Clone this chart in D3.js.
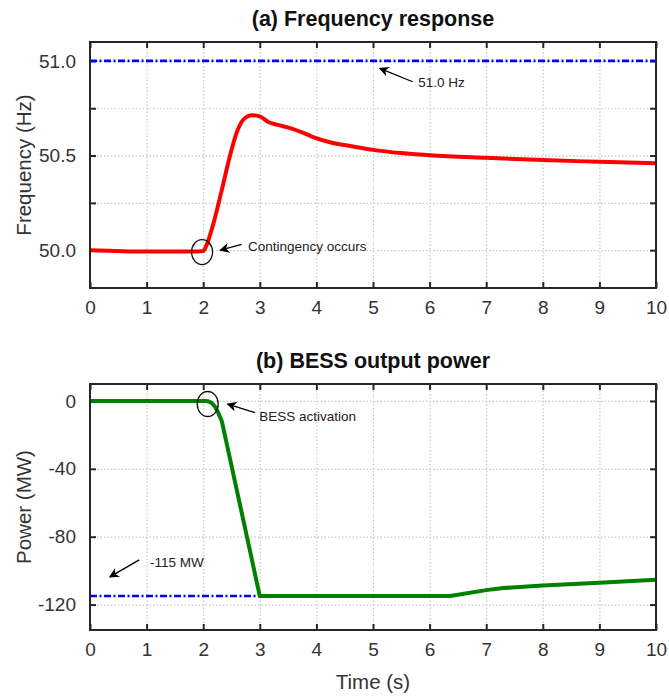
<!DOCTYPE html>
<html><head><meta charset="utf-8">
<script src="https://cdn.jsdelivr.net/npm/d3@7"></script>
<style>
body{margin:0;background:#fff}
svg{display:block}
text{font-family:"Liberation Sans",Arial,Helvetica,sans-serif}
</style>
</head><body>
<svg id="chart" width="669" height="696"></svg>
<script>
// ---------- data ----------
const timeTicks = [0,1,2,3,4,5,6,7,8,9,10];
const freqTicks = [50.0,50.25,50.5,50.75,51.0];
const freqTickLabels = ["50.0","","50.5","","51.0"];
const powerTicks = [0,-40,-80,-120];
const powerTickLabels = ["0","-40","-80","-120"];

const freqTime  = [0, 1.0, 1.9, 2.0, 2.05, 2.18, 2.33, 2.47, 2.59, 2.71, 2.86, 3.0, 3.15, 3.3, 3.59, 3.77, 3.98, 4.24, 4.65, 5.0, 5.5, 6.0, 7.0, 8.0, 9.0, 10.0];
const freqValue = [50.0, 49.993, 49.993, 49.995, 50.02, 50.14, 50.32, 50.495, 50.62, 50.69, 50.713, 50.707, 50.677, 50.663, 50.64, 50.62, 50.593, 50.57, 50.548, 50.53, 50.513, 50.502, 50.488, 50.476, 50.467, 50.459];

const powerTime  = [0, 2.05, 2.1, 2.15, 2.2, 2.26, 2.33, 3.0, 6.36, 7.0, 7.3, 8.0, 9.0, 10.0];
const powerValue = [0, 0, -0.3, -1.2, -3, -6.5, -12, -115, -115, -111.5, -110.3, -108.7, -107.2, -105.4];

const freqLimit = 51.0;          // Hz
const powerLimit = -115;         // MW
const powerLimitEnd = 3.0;       // s

// ---------- layout ----------
const svg = d3.select("#chart");
const X0 = 90, X1 = 656;
const panels = [
  {top:42, bottom:288, domain:[49.8,51.1], ticks:freqTicks, labels:freqTickLabels,
   title:"(a) Frequency response", ylabel:"Frequency (Hz)"},
  {top:384, bottom:630, domain:[-135,10], ticks:powerTicks, labels:powerTickLabels,
   title:"(b) BESS output power", ylabel:"Power (MW)"}
];
const x = d3.scaleLinear().domain([0,10]).range([X0,X1]);
const axisColor = "#262626";
const tickColor = "#333";

const defs = svg.append("defs");
defs.append("marker").attr("id","arr").attr("viewBox","0 0 10 10")
  .attr("refX",9).attr("refY",5).attr("markerWidth",10).attr("markerHeight",10)
  .attr("markerUnits","userSpaceOnUse").attr("orient","auto")
  .append("path").attr("d","M0,0 L10,5 L0,10 L3,5 Z").attr("fill","#000");

panels.forEach((p,i)=>{
  const y = d3.scaleLinear().domain(p.domain).range([p.bottom,p.top]);
  p.y = y;
  const h = p.bottom - p.top;
  const g = svg.append("g");

  // grid
  const gx = g.append("g").attr("transform",`translate(0,${p.bottom})`)
    .call(d3.axisBottom(x).tickValues(timeTicks).tickSize(-h).tickFormat(""));
  const gy = g.append("g").attr("transform",`translate(${X0},0)`)
    .call(d3.axisLeft(y).tickValues(p.ticks).tickSize(-(X1-X0)).tickFormat(""));
  [gx,gy].forEach(a=>{
    a.select(".domain").remove();
    a.selectAll("line").attr("stroke","#c8c8c8").attr("stroke-width",1.2).attr("stroke-dasharray","1.5,2");
  });

  // ticks inside, all four sides
  const tb = g.append("g").attr("transform",`translate(0,${p.bottom})`)
    .call(d3.axisBottom(x).tickValues(timeTicks).tickSizeInner(-6).tickSizeOuter(0).tickPadding(17).tickFormat(d3.format("d")));
  const tt = g.append("g").attr("transform",`translate(0,${p.top})`)
    .call(d3.axisTop(x).tickValues(timeTicks).tickSizeInner(-6).tickSizeOuter(0).tickFormat(""));
  const tl = g.append("g").attr("transform",`translate(${X0},0)`)
    .call(d3.axisLeft(y).tickValues(p.ticks).tickSizeInner(-6).tickSizeOuter(0).tickPadding(14)
      .tickFormat((d,k)=>p.labels[k]));
  const tr = g.append("g").attr("transform",`translate(${X1},0)`)
    .call(d3.axisRight(y).tickValues(p.ticks).tickSizeInner(-6).tickSizeOuter(0).tickFormat(""));
  [tb,tt,tl,tr].forEach(a=>{
    a.select(".domain").remove();
    a.selectAll("line").attr("stroke",axisColor).attr("stroke-width",2);
    a.selectAll("text").attr("fill",tickColor).style("font-size","19px");
  });
  tb.selectAll("text").attr("dy","0.35em").attr("y",19);

  // title
  g.append("text").attr("x",(X0+X1)/2).attr("y",p.top-16)
    .attr("text-anchor","middle").style("font-size","21.5px").style("font-weight","bold")
    .attr("fill","#111").text(p.title);
  // y label
  g.append("text").attr("transform",`translate(31,${(p.top+p.bottom)/2}) rotate(-90)`)
    .attr("text-anchor","middle").style("font-size","20.5px").attr("fill",tickColor).text(p.ylabel);
});

const pa = panels[0], pb = panels[1];

// ---- panel a lines ----
svg.append("line").attr("x1",x(0)).attr("x2",x(10)).attr("y1",pa.y(freqLimit)).attr("y2",pa.y(freqLimit))
  .attr("stroke","#0000ff").attr("stroke-width",2.6).attr("stroke-dasharray","7,2.5,2,2.5");
const freqLine = d3.line().x((d,i)=>x(freqTime[i])).y((d,i)=>pa.y(freqValue[i])).curve(d3.curveMonotoneX);
svg.append("path").attr("d",freqLine(freqTime)).attr("fill","none").attr("stroke","#ff0000")
  .attr("stroke-width",4).attr("stroke-linejoin","round");

// ---- panel b lines ----
svg.append("line").attr("x1",x(0)).attr("x2",x(powerLimitEnd)).attr("y1",pb.y(powerLimit)).attr("y2",pb.y(powerLimit))
  .attr("stroke","#0000ff").attr("stroke-width",2.6).attr("stroke-dasharray","7,2.5,2,2.5");
const powerLine = d3.line().x((d,i)=>x(powerTime[i])).y((d,i)=>pb.y(powerValue[i])).curve(d3.curveLinear);
svg.append("path").attr("d",powerLine(powerTime)).attr("fill","none").attr("stroke","#008000")
  .attr("stroke-width",4).attr("stroke-linejoin","round");

// ---- box frames ----
panels.forEach(p=>{
  svg.append("rect").attr("x",X0).attr("y",p.top).attr("width",X1-X0).attr("height",p.bottom-p.top)
    .attr("fill","none").attr("stroke",axisColor).attr("stroke-width",2);
});

// ---- annotations ----
function arrow(ys, t0, v0, t1, v1){
  svg.append("line").attr("x1",x(t0)).attr("y1",ys(v0)).attr("x2",x(t1)).attr("y2",ys(v1))
    .attr("stroke","#000").attr("stroke-width",1.3).attr("marker-end","url(#arr)");
}
function note(ys, t, v, s){
  svg.append("text").attr("x",x(t)).attr("y",ys(v)).attr("dy","0.35em")
    .style("font-size","13.5px").attr("fill","#222").text(s);
}
function ring(ys, t, v){
  svg.append("ellipse").attr("cx",x(t)).attr("cy",ys(v)).attr("rx",10.5).attr("ry",12.5)
    .attr("fill","none").attr("stroke","#111").attr("stroke-width",1.3);
}
arrow(pa.y, 5.70, 50.89, 5.12, 50.961);
note(pa.y, 5.80, 50.889, "51.0 Hz");
ring(pa.y, 1.98, 49.99);
arrow(pa.y, 2.68, 50.03, 2.30, 50.0);
note(pa.y, 2.79, 50.02, "Contingency occurs");

ring(pb.y, 2.08, -1.8);
arrow(pb.y, 2.915, -6.9, 2.43, -1.8);
note(pb.y, 2.99, -8.9, "BESS activation");
arrow(pb.y, 0.87, -93.7, 0.35, -103.7);
note(pb.y, 1.06, -95.2, "-115 MW");

// x label
svg.append("text").attr("x",(X0+X1)/2).attr("y",682).attr("dy","0.35em").attr("text-anchor","middle")
  .style("font-size","20.5px").attr("fill",tickColor).text("Time (s)");
</script>
</body></html>
